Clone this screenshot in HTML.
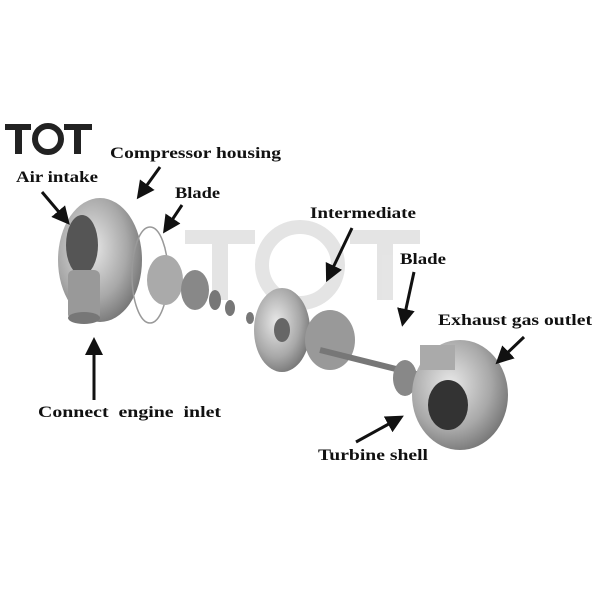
<!DOCTYPE html>
<html><head><style>
body{margin:0;background:#fff;}
svg{display:block}
text{font-family:"Liberation Serif",serif;font-weight:bold;fill:#111;}
</style></head><body>
<svg width="600" height="600" viewBox="0 0 600 600" xmlns="http://www.w3.org/2000/svg">
<defs>
<radialGradient id="g1" cx="0.4" cy="0.4" r="0.7"><stop offset="0" stop-color="#e8e8e8"/><stop offset="0.6" stop-color="#a8a8a8"/><stop offset="1" stop-color="#6a6a6a"/></radialGradient>
<marker id="ar" markerWidth="6" markerHeight="6" refX="3" refY="3" orient="auto"><path d="M0,0 L6,3 L0,6 z" fill="#111"/></marker>
</defs>
<!-- watermark -->
<g fill="#dedede" opacity="0.8">
<rect x="185" y="230" width="70" height="14"/><rect x="212" y="230" width="16" height="70"/>
<circle cx="300" cy="265" r="38" fill="none" stroke="#dedede" stroke-width="14"/>
<rect x="350" y="230" width="70" height="14"/><rect x="377" y="230" width="16" height="70"/>
</g>
<!-- logo -->
<g fill="#222">
<rect x="5" y="124" width="26" height="6"/><rect x="15" y="124" width="7" height="30"/>
<circle cx="48" cy="139" r="13" fill="none" stroke="#222" stroke-width="6"/>
<rect x="64" y="124" width="28" height="6"/><rect x="74" y="124" width="7" height="30"/>
</g>
<!-- compressor housing -->
<ellipse cx="100" cy="260" rx="42" ry="62" fill="url(#g1)"/>
<ellipse cx="82" cy="245" rx="16" ry="30" fill="#555"/>
<rect x="68" y="270" width="32" height="50" rx="6" fill="#999"/>
<ellipse cx="84" cy="318" rx="16" ry="6" fill="#777"/>
<ellipse cx="150" cy="275" rx="18" ry="48" fill="none" stroke="#999" stroke-width="1.5"/>
<ellipse cx="165" cy="280" rx="18" ry="25" fill="#aaa"/>
<ellipse cx="195" cy="290" rx="14" ry="20" fill="#888"/>
<g fill="#777"><ellipse cx="215" cy="300" rx="6" ry="10"/><ellipse cx="230" cy="308" rx="5" ry="8"/><ellipse cx="250" cy="318" rx="4" ry="6"/></g>
<!-- intermediate -->
<ellipse cx="282" cy="330" rx="28" ry="42" fill="url(#g1)"/>
<ellipse cx="282" cy="330" rx="8" ry="12" fill="#666"/>
<ellipse cx="330" cy="340" rx="25" ry="30" fill="#999"/>
<line x1="320" y1="350" x2="420" y2="375" stroke="#777" stroke-width="6"/>
<ellipse cx="405" cy="378" rx="12" ry="18" fill="#888"/>
<!-- turbine -->
<ellipse cx="460" cy="395" rx="48" ry="55" fill="url(#g1)"/>
<ellipse cx="448" cy="405" rx="20" ry="25" fill="#333"/>
<rect x="420" y="345" width="35" height="25" fill="#aaa"/>
<!-- labels -->
<g font-size="16" lengthAdjust="spacingAndGlyphs">
<text x="110" y="158" textLength="171" lengthAdjust="spacingAndGlyphs">Compressor housing</text>
<text x="16" y="182" textLength="82" lengthAdjust="spacingAndGlyphs">Air intake</text>
<text x="175" y="198" textLength="45" lengthAdjust="spacingAndGlyphs">Blade</text>
<text x="310" y="218" textLength="106" lengthAdjust="spacingAndGlyphs">Intermediate</text>
<text x="400" y="264" textLength="46" lengthAdjust="spacingAndGlyphs">Blade</text>
<text x="438" y="325" textLength="154" lengthAdjust="spacingAndGlyphs">Exhaust gas outlet</text>
<text x="38" y="417" textLength="183" lengthAdjust="spacingAndGlyphs">Connect&#160; engine&#160; inlet</text>
<text x="318" y="460" textLength="110" lengthAdjust="spacingAndGlyphs">Turbine shell</text>
</g>
<g stroke="#111" stroke-width="3" marker-end="url(#ar)" fill="none">
<line x1="160" y1="167" x2="142" y2="192"/>
<line x1="42" y1="192" x2="64" y2="218"/>
<line x1="182" y1="205" x2="168" y2="226"/>
<line x1="352" y1="228" x2="330" y2="274"/>
<line x1="414" y1="272" x2="404" y2="318"/>
<line x1="524" y1="337" x2="502" y2="358"/>
<line x1="94" y1="400" x2="94" y2="346"/>
<line x1="356" y1="442" x2="396" y2="420"/>
</g>
</svg>
</body></html>
